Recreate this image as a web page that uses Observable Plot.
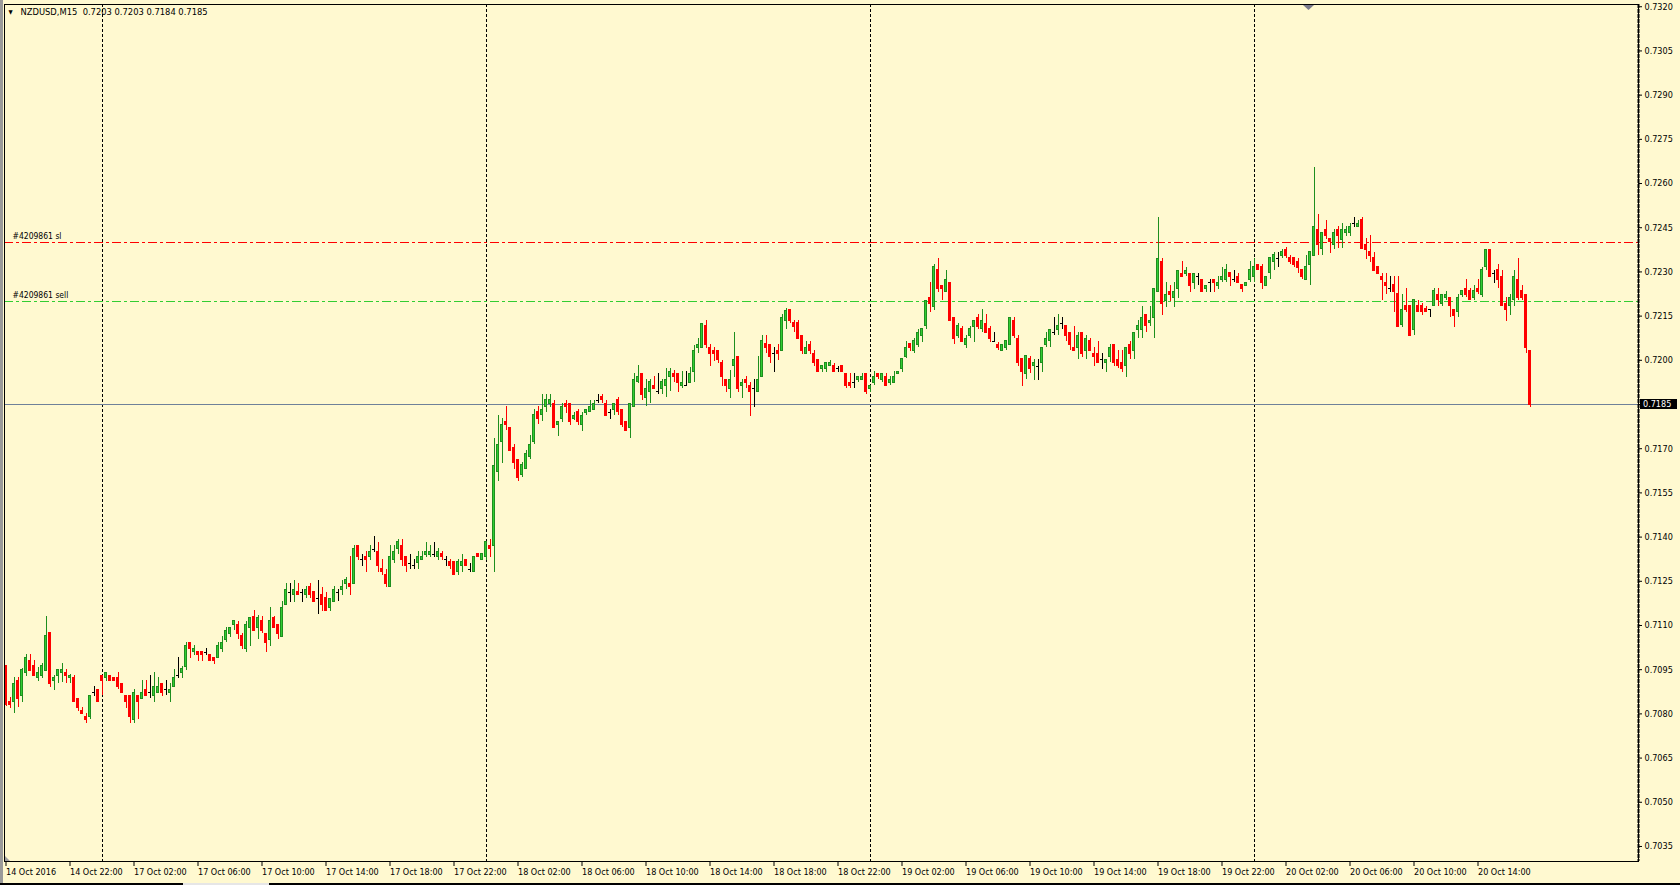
<!DOCTYPE html>
<html><head><meta charset="utf-8">
<script src="https://cdn.jsdelivr.net/npm/d3@7"></script>
<script src="https://cdn.jsdelivr.net/npm/@observablehq/plot@0.6"></script>
<style>
html,body{margin:0;padding:0;background:#FFF9D0;overflow:hidden;width:1680px;height:885px;}
#chart{position:absolute;left:0;top:0;}
#leftEdge{position:absolute;left:0;top:0;width:3px;height:885px;background:#9A9A9A;}
#bottomEdge{position:absolute;left:0;top:883px;width:1680px;height:2px;background:#000;}
#bottomGap{position:absolute;left:183px;top:883px;width:86px;height:2px;background:#E6E6E6;}
svg text{font-stretch:condensed;}
</style></head><body><div id="chart"></div><div id="leftEdge"></div><div id="bottomEdge"></div><div id="bottomGap"></div>
<script>
// NZDUSD M15, values in pips (price x 10000), one candle every 15 minutes from 14 Oct 2016 18:00
const symbolName = "NZDUSD,M15";
const openPips = [
7096.1,7084.2,7084.2,7091.3,7086.0,7093.8,7098.1,7096.1,7092.2,7092.7,
7094.7,7107.3,7091.1,7092.7,7093.8,7094.0,7092.1,7092.2,7085.2,7081.1,
7079.1,7078.9,7087.3,7088.2,7092.9,7092.1,7093.0,7092.2,7092.2,7090.2,
7086.1,7086.1,7078.0,7086.1,7085.0,7088.2,7087.1,7086.0,7087.1,7090.2,
7088.2,7087.1,7089.2,7092.9,7093.9,7095.8,7104.1,7100.9,7101.0,7101.0,
7101.0,7100.0,7099.0,7099.0,7102.1,7105.1,7107.2,7110.2,7110.3,7106.3,
7102.1,7109.2,7112.9,7109.2,7111.4,7107.2,7105.1,7112.4,7110.3,7106.1,
7117.0,7121.2,7120.2,7121.2,7121.2,7120.2,7123.2,7121.2,7119.2,7120.2,
7119.2,7115.9,7118.0,7121.1,7122.1,7124.1,7124.1,7124.1,7137.1,7132.3,
7133.4,7133.2,7135.9,7135.1,7129.2,7127.3,7123.0,7132.3,7136.1,7137.1,
7133.4,7131.1,7130.3,7131.1,7132.1,7133.9,7133.9,7134.1,7133.2,7134.1,
7132.3,7131.4,7131.4,7128.0,7130.1,7132.3,7129.0,7128.0,7134.1,7132.1,
7133.2,7137.1,7137.1,7162.0,7172.2,7179.2,7177.1,7170.4,7166.3,7161.1,
7163.2,7167.1,7172.2,7182.4,7181.3,7184.3,7185.3,7185.3,7178.2,7180.1,
7185.3,7185.3,7180.1,7182.3,7178.0,7182.1,7182.3,7183.3,7186.4,7187.4,
7185.3,7182.3,7183.3,7186.4,7183.3,7179.2,7177.1,7184.3,7192.5,7195.4,
7187.3,7189.3,7191.3,7189.3,7190.4,7191.3,7194.5,7195.4,7195.4,7191.2,
7191.5,7192.4,7196.0,7204.1,7204.1,7211.5,7204.3,7203.2,7203.2,7199.1,
7193.4,7190.3,7198.0,7201.2,7191.2,7193.4,7191.3,7190.3,7189.2,7194.3,
7205.4,7205.2,7202.2,7203.2,7203.2,7213.5,7217.2,7212.5,7212.5,7208.4,
7202.2,7205.2,7202.2,7200.0,7197.1,7197.1,7198.0,7198.0,7197.1,7198.0,
7195.4,7192.4,7192.4,7193.4,7193.4,7195.4,7190.3,7192.4,7195.4,7193.4,
7194.4,7192.4,7192.4,7195.4,7197.1,7201.1,7205.4,7203.3,7205.3,7208.4,
7211.5,7221.3,7218.0,7230.5,7225.3,7223.1,7226.4,7214.5,7208.2,7210.5,
7205.3,7208.4,7211.2,7214.5,7210.5,7212.4,7210.5,7206.3,7205.3,7203.2,
7204.2,7205.3,7213.4,7207.3,7200.3,7195.4,7200.3,7198.0,7198.0,7199.1,
7205.2,7206.4,7209.4,7210.4,7212.5,7211.5,7209.4,7204.2,7204.2,7209.4,
7203.2,7206.4,7202.2,7202.2,7200.2,7199.1,7201.1,7205.2,7200.2,7199.1,
7198.0,7205.2,7203.2,7210.4,7210.4,7215.5,7212.5,7214.5,7223.1,7233.5,
7220.1,7223.2,7221.1,7224.2,7229.4,7229.4,7229.4,7226.3,7228.3,7227.3,
7224.2,7226.3,7227.3,7225.2,7227.3,7227.3,7229.5,7227.3,7228.4,7225.4,
7225.2,7227.3,7228.4,7232.5,7231.6,7225.2,7229.5,7233.5,7234.7,7235.5,
7237.6,7234.7,7234.7,7233.5,7230.5,7227.3,7232.5,7235.5,7244.3,7237.9,
7244.3,7241.2,7239.0,7244.3,7241.0,7243.1,7243.1,7246.5,7245.2,7247.5,
7239.2,7236.7,7234.7,7231.6,7228.4,7226.3,7224.4,7225.4,7222.5,7212.1,
7218.3,7218.3,7210.3,7218.3,7218.3,7217.4,7217.1,7218.3,7222.3,7219.2,
7221.2,7221.2,7217.1,7216.3,7222.3,7224.3,7223.4,7221.2,7224.3,7222.3,
7231.6,7237.5,7229.6,7230.5,7228.4,7219.2,7218.3,7220.3,7227.3,7223.4,
7222.3,7203.0];
const highPips = [
7096.1,7085.7,7092.2,7092.2,7095.3,7100.2,7100.2,7098.1,7095.9,7097.0,
7113.0,7107.3,7093.0,7094.9,7097.0,7094.9,7093.3,7093.0,7085.2,7082.1,
7080.0,7086.3,7089.3,7088.2,7092.9,7094.2,7093.0,7092.2,7094.2,7090.4,
7086.1,7086.1,7088.2,7086.1,7091.3,7091.3,7093.0,7094.2,7092.5,7090.2,
7091.3,7090.2,7095.1,7099.1,7096.1,7104.1,7104.1,7103.2,7101.0,7101.0,
7102.1,7100.0,7099.0,7104.1,7106.3,7109.3,7109.3,7111.4,7111.4,7107.2,
7111.4,7112.4,7115.1,7113.4,7112.9,7107.2,7116.1,7112.9,7110.3,7118.1,
7124.2,7124.2,7125.3,7124.2,7122.2,7123.2,7124.2,7121.2,7125.3,7123.0,
7121.2,7119.0,7123.1,7122.1,7125.3,7126.3,7133.4,7137.1,7137.1,7134.1,
7135.1,7137.1,7140.2,7138.2,7132.3,7129.0,7137.1,7137.1,7139.1,7139.1,
7133.4,7134.1,7132.3,7135.1,7135.1,7138.2,7137.1,7138.2,7136.1,7135.1,
7133.4,7132.3,7131.4,7132.3,7134.1,7132.3,7131.1,7133.4,7134.1,7134.1,
7138.2,7139.1,7173.5,7181.3,7180.1,7184.3,7177.1,7171.3,7166.3,7165.2,
7169.4,7174.5,7183.3,7184.3,7188.4,7188.4,7188.4,7186.4,7179.2,7185.3,
7186.4,7185.3,7182.3,7183.3,7182.3,7183.3,7186.4,7186.4,7188.4,7188.4,
7186.4,7183.3,7185.3,7187.4,7183.3,7179.2,7185.3,7195.4,7198.2,7195.4,
7193.4,7193.4,7194.5,7195.4,7193.4,7197.2,7197.2,7196.5,7195.4,7196.2,
7196.2,7197.6,7205.0,7207.3,7212.4,7213.5,7205.2,7204.3,7203.2,7200.0,
7193.4,7196.5,7209.5,7201.2,7193.4,7194.5,7192.4,7193.4,7201.2,7208.4,
7208.4,7205.2,7204.3,7205.2,7215.5,7217.5,7217.2,7213.5,7213.5,7208.4,
7206.4,7206.4,7203.2,7200.0,7198.0,7199.0,7200.0,7199.0,7198.0,7198.0,
7195.4,7195.4,7195.4,7194.4,7195.4,7195.4,7191.3,7196.1,7195.4,7195.4,
7195.4,7194.4,7196.1,7196.1,7200.3,7206.4,7205.4,7207.3,7210.5,7210.5,
7220.2,7226.4,7232.5,7234.4,7225.3,7230.5,7226.4,7214.5,7212.4,7211.5,
7208.4,7211.5,7213.4,7215.5,7217.1,7215.5,7211.5,7209.3,7206.2,7205.3,
7206.4,7214.5,7214.5,7208.4,7200.3,7201.3,7201.3,7200.3,7200.3,7204.2,
7209.5,7210.4,7214.5,7215.5,7214.5,7211.5,7209.4,7211.5,7209.4,7209.4,
7208.4,7207.3,7204.2,7206.4,7202.2,7200.2,7205.2,7205.2,7203.2,7203.2,
7204.2,7206.4,7209.4,7213.5,7218.3,7215.5,7218.3,7224.2,7248.5,7234.5,
7226.3,7225.3,7226.3,7230.4,7233.5,7231.5,7229.4,7229.4,7229.4,7227.3,
7225.3,7227.3,7227.3,7228.4,7231.6,7232.5,7229.5,7230.5,7229.5,7225.4,
7226.3,7233.5,7234.7,7232.5,7232.5,7228.4,7234.7,7236.7,7236.7,7237.5,
7238.4,7235.7,7234.7,7234.7,7230.5,7235.7,7236.7,7265.6,7249.5,7243.1,
7247.5,7241.2,7244.3,7245.4,7246.3,7245.4,7246.3,7248.6,7247.5,7248.6,
7241.2,7242.4,7236.7,7231.6,7229.5,7229.5,7228.4,7228.4,7228.4,7222.3,
7224.3,7218.3,7220.3,7220.3,7219.2,7218.3,7217.1,7224.3,7224.3,7222.3,
7223.4,7221.2,7217.1,7222.3,7223.4,7227.3,7224.3,7225.4,7227.3,7231.6,
7237.5,7237.5,7230.5,7232.4,7230.5,7221.2,7222.3,7230.5,7234.4,7225.4,
7222.3,7203.0];
const lowPips = [
7082.5,7081.7,7080.0,7082.1,7084.0,7092.7,7094.5,7092.7,7091.0,7091.9,
7094.5,7089.1,7087.9,7090.2,7090.8,7090.2,7090.2,7084.0,7080.9,7079.8,
7076.9,7078.0,7085.9,7084.0,7086.2,7091.0,7091.1,7091.1,7088.2,7086.8,
7081.9,7076.9,7076.9,7078.0,7085.0,7086.0,7085.1,7084.0,7087.1,7086.0,
7086.1,7084.0,7089.2,7092.1,7092.1,7094.7,7098.9,7099.8,7097.9,7097.9,
7099.9,7097.9,7096.9,7099.0,7100.9,7104.1,7106.0,7108.2,7105.1,7101.8,
7100.9,7103.0,7108.2,7105.1,7107.2,7100.9,7103.0,7109.2,7105.1,7106.1,
7116.8,7117.9,7117.9,7120.2,7117.9,7119.0,7119.0,7117.9,7113.8,7114.9,
7114.9,7114.9,7118.0,7118.0,7120.1,7122.1,7120.1,7124.1,7132.1,7130.0,
7128.0,7132.1,7134.9,7128.0,7127.0,7123.0,7123.0,7130.9,7134.1,7130.1,
7128.0,7129.0,7129.0,7129.0,7132.1,7133.2,7133.2,7133.2,7132.1,7132.1,
7130.1,7129.0,7127.0,7127.0,7128.0,7130.1,7128.0,7128.0,7133.2,7132.1,
7132.1,7133.2,7128.0,7159.0,7165.1,7176.2,7169.2,7163.1,7159.0,7160.1,
7163.2,7166.2,7171.4,7178.2,7179.2,7182.3,7184.1,7177.1,7174.2,7179.0,
7182.1,7177.9,7179.6,7177.9,7176.0,7181.2,7182.3,7183.3,7185.2,7185.2,
7181.2,7180.0,7181.2,7181.2,7177.1,7176.0,7173.3,7184.3,7192.0,7186.4,
7184.3,7185.3,7190.3,7188.4,7188.4,7187.3,7189.3,7192.4,7189.2,7190.3,
7191.2,7192.4,7192.4,7202.2,7204.1,7204.1,7198.0,7199.6,7199.0,7191.2,
7189.2,7187.2,7194.3,7189.2,7187.2,7190.3,7181.0,7184.1,7189.2,7194.3,
7202.2,7199.0,7196.0,7200.0,7203.2,7210.3,7212.5,7209.3,7207.3,7202.1,
7202.2,7202.1,7198.0,7196.0,7196.0,7196.0,7198.0,7196.0,7196.0,7196.0,
7190.3,7190.3,7190.3,7192.4,7193.4,7188.3,7189.2,7191.3,7193.4,7192.4,
7191.3,7191.3,7192.4,7195.4,7196.0,7200.5,7203.1,7202.2,7204.2,7206.2,
7210.5,7216.3,7216.9,7223.1,7220.2,7223.1,7213.4,7205.2,7207.3,7206.2,
7204.1,7207.3,7206.2,7210.5,7209.3,7209.3,7206.2,7206.2,7203.2,7203.2,
7203.2,7205.3,7207.3,7198.0,7191.2,7193.4,7195.4,7193.1,7193.1,7196.0,
7204.2,7204.2,7208.4,7208.4,7210.4,7206.4,7203.2,7203.2,7200.2,7201.1,
7200.2,7203.2,7198.0,7199.1,7196.9,7196.0,7199.1,7198.0,7197.1,7196.0,
7194.3,7200.2,7200.2,7207.3,7207.3,7209.4,7211.5,7207.3,7223.1,7215.2,
7218.0,7220.1,7218.0,7221.1,7228.3,7228.3,7223.1,7224.2,7225.3,7223.1,
7223.1,7223.1,7223.1,7224.1,7226.3,7226.3,7225.2,7226.3,7226.3,7223.1,
7225.2,7226.3,7226.3,7230.5,7224.1,7225.2,7227.3,7230.5,7231.4,7234.7,
7234.7,7232.5,7231.6,7229.4,7227.3,7227.3,7225.4,7235.5,7235.5,7235.5,
7241.0,7236.4,7237.5,7237.9,7237.9,7242.1,7242.1,7245.2,7245.2,7237.9,
7234.3,7233.3,7230.2,7229.3,7220.3,7222.2,7223.1,7216.3,7211.2,7211.2,
7216.3,7208.1,7208.4,7216.3,7215.2,7216.3,7214.4,7218.3,7218.3,7218.3,
7220.3,7214.4,7211.2,7214.4,7221.4,7221.4,7220.3,7220.3,7222.3,7221.2,
7230.5,7228.4,7226.2,7224.3,7218.3,7213.3,7215.2,7218.3,7220.3,7220.3,
7202.2,7184.0];
const closePips = [
7083.1,7083.1,7090.2,7085.0,7094.9,7099.0,7094.7,7092.7,7094.0,7096.1,
7106.3,7090.2,7092.2,7094.9,7094.9,7092.7,7093.0,7084.0,7081.9,7079.8,
7077.8,7086.1,7087.3,7084.0,7091.1,7093.9,7091.1,7091.1,7089.1,7087.0,
7084.0,7078.9,7087.1,7084.0,7087.1,7086.0,7087.1,7089.2,7089.2,7087.1,
7088.2,7088.1,7092.3,7092.9,7095.1,7103.2,7102.1,7102.1,7099.9,7099.9,
7101.0,7097.9,7097.9,7103.2,7104.1,7108.2,7109.3,7111.4,7107.2,7103.0,
7110.3,7112.4,7108.2,7112.4,7108.2,7104.0,7111.4,7109.2,7107.2,7116.1,
7122.2,7121.2,7122.2,7120.2,7121.2,7122.2,7120.2,7117.9,7119.2,7117.0,
7114.9,7119.0,7122.1,7121.1,7123.1,7125.3,7123.1,7136.1,7133.2,7132.3,
7132.3,7135.1,7135.9,7130.1,7128.0,7124.1,7133.4,7135.1,7138.2,7132.3,
7130.1,7131.1,7130.3,7133.4,7133.4,7135.1,7135.1,7134.1,7135.1,7133.2,
7132.3,7130.1,7127.0,7131.4,7131.4,7130.1,7129.0,7133.4,7133.2,7134.1,
7138.2,7136.1,7164.2,7171.4,7178.2,7178.1,7169.2,7165.1,7160.1,7164.3,
7168.3,7171.4,7181.3,7180.1,7183.3,7186.4,7186.4,7177.1,7179.2,7184.3,
7184.1,7179.0,7181.2,7179.0,7181.2,7183.3,7184.3,7185.3,7186.4,7186.4,
7181.2,7182.3,7185.3,7182.3,7178.0,7176.0,7185.3,7193.4,7194.5,7188.2,
7190.4,7192.5,7190.3,7189.3,7192.5,7193.4,7196.2,7194.3,7192.4,7192.4,
7191.5,7195.4,7203.3,7205.2,7212.4,7205.2,7202.2,7202.1,7200.0,7194.3,
7191.2,7193.4,7200.2,7190.3,7192.4,7192.4,7189.2,7190.3,7193.4,7206.4,
7204.1,7201.1,7202.2,7202.1,7214.5,7216.6,7213.5,7211.4,7207.3,7203.2,
7204.3,7203.2,7199.0,7196.0,7198.0,7199.0,7199.0,7196.0,7197.1,7196.0,
7191.2,7191.2,7192.4,7194.4,7194.4,7189.2,7191.3,7194.4,7194.4,7195.4,
7191.3,7193.4,7194.4,7196.1,7200.3,7204.3,7204.2,7206.4,7209.3,7210.5,
7220.2,7219.2,7231.5,7224.3,7224.3,7227.4,7213.4,7207.3,7211.5,7206.2,
7207.3,7210.5,7213.4,7211.2,7213.4,7209.3,7207.3,7206.3,7204.2,7205.3,
7206.4,7214.5,7208.2,7199.1,7196.0,7201.3,7197.1,7199.1,7198.0,7204.2,
7207.3,7210.4,7209.4,7211.5,7212.5,7208.4,7205.2,7203.2,7208.4,7202.2,
7207.3,7203.2,7201.1,7199.1,7200.2,7200.2,7204.2,7199.1,7198.0,7197.1,
7204.2,7202.2,7209.4,7211.5,7214.5,7211.5,7213.5,7224.2,7234.5,7219.0,
7222.2,7222.2,7223.2,7230.4,7228.3,7230.4,7225.3,7229.4,7228.3,7223.1,
7225.3,7226.3,7226.3,7226.3,7228.4,7230.5,7228.4,7227.3,7226.3,7224.1,
7226.3,7230.5,7231.6,7230.5,7226.3,7228.4,7234.7,7235.7,7234.7,7236.7,
7235.5,7233.5,7232.5,7231.4,7228.2,7231.6,7236.7,7245.4,7239.0,7243.1,
7242.1,7240.1,7243.1,7242.1,7244.3,7244.3,7245.4,7246.5,7246.3,7237.9,
7237.5,7235.5,7230.2,7229.3,7227.3,7225.2,7224.4,7223.1,7211.2,7217.1,
7217.1,7208.4,7220.3,7216.3,7216.3,7216.3,7217.1,7223.4,7220.3,7222.3,
7222.3,7218.3,7215.2,7221.2,7223.4,7222.3,7220.3,7223.4,7223.1,7230.5,
7237.5,7228.4,7229.6,7227.3,7218.3,7217.1,7221.2,7228.4,7221.2,7221.2,
7204.2,7185.0];

// time axis: bar index of each label, and its text
const timeTickBars = [0,16,32,48,64,80,96,112,128,144,160,176,192,208,224,240,256,272,288,304,320,336,352,368];
const timeLabels = ["14 Oct 2016","14 Oct 22:00","17 Oct 02:00","17 Oct 06:00","17 Oct 10:00","17 Oct 14:00",
  "17 Oct 18:00","17 Oct 22:00","18 Oct 02:00","18 Oct 06:00","18 Oct 10:00","18 Oct 14:00","18 Oct 18:00",
  "18 Oct 22:00","19 Oct 02:00","19 Oct 06:00","19 Oct 10:00","19 Oct 14:00","19 Oct 18:00","19 Oct 22:00",
  "20 Oct 02:00","20 Oct 06:00","20 Oct 10:00","20 Oct 14:00"];
// bars that open a new day (00:00)
const daySeparatorBars = [24,120,216,312];
const priceTicks = [0.7035,0.7050,0.7065,0.7080,0.7095,0.7110,0.7125,0.7140,0.7155,0.7170,0.7185,0.7200,
  0.7215,0.7230,0.7245,0.7260,0.7275,0.7290,0.7305,0.7320];
const orderLevels = [0.7240, 0.7220];
const orderLabels = ["#4209861 sl", "#4209861 sell"];
const orderColors = ["#FF0000", "#32CD32"];
const bidPrice = 0.7185;

const rows = openPips.map((o, i) => {
  const d = {i, o: o / 1e4, h: highPips[i] / 1e4, l: lowPips[i] / 1e4, c: closePips[i] / 1e4};
  d.kind = d.c > d.o ? "bull" : d.c < d.o ? "bear" : "doji";
  return d;
});
const levels = orderLevels.map((p, k) => ({price: p, label: orderLabels[k], color: orderColors[k]}));
const wickColor = {bull: "#1E8E1E", bear: "#FF0000", doji: "#000000"};
const bodies = rows.filter(d => d.kind !== "doji");
const dojis = rows.filter(d => d.kind === "doji");
const last = rows[rows.length - 1];
const header = `${symbolName}\u00a0\u00a0${[last.o, last.h, last.l, last.c].map(v => v.toFixed(4)).join(" ")}`;

const FONT = "'DejaVu Sans Condensed','DejaVu Sans',sans-serif";
const W = 1680, H = 885;
const xDomain = [-0.375, 408.125];
const crisp = {shapeRendering: "crispEdges"};
const chart = Plot.plot({
  width: W, height: H,
  marginLeft: 4, marginRight: 42, marginTop: 4, marginBottom: 24,
  style: {background: "#FFF9D0", fontFamily: FONT, fontSize: "9px", color: "#000", overflow: "visible"},
  x: {domain: xDomain, axis: null},
  y: {domain: [0.702990, 0.732076], axis: null},
  marks: [
    Plot.ruleX(daySeparatorBars, {x: d => d, stroke: "#000", strokeDasharray: "3,2", strokeWidth: 1, ...crisp}),
    Plot.ruleY(levels, {y: "price", stroke: "color", strokeDasharray: "9,3,3,3", strokeWidth: 1, ...crisp}),
    Plot.ruleY([bidPrice], {stroke: "#6F8199", strokeWidth: 1, ...crisp}),
    Plot.text(levels, {y: "price", text: "label", frameAnchor: "left", textAnchor: "start", dx: 8, dy: -6, fill: "#000", fontSize: 8.5}),
    Plot.ruleX(rows, {x: "i", y1: "l", y2: "h", stroke: d => wickColor[d.kind], strokeWidth: 1, ...crisp}),
    Plot.rect(bodies, {x1: d => d.i - 0.25, x2: d => d.i + 0.25, y1: "o", y2: "c",
      fill: d => d.kind === "bull" ? "#32CD32" : "#FF0000",
      stroke: d => d.kind === "bull" ? "#1E8E1E" : "#FF0000", strokeWidth: 1, ...crisp}),
    Plot.ruleY(dojis, {y: "o", x1: d => d.i - 0.375, x2: d => d.i + 0.375, stroke: "#000", strokeWidth: 1, ...crisp}),
    Plot.frame({stroke: "#000", strokeWidth: 1, ...crisp}),
    Plot.ruleX([xDomain[1]], {stroke: "#000", strokeWidth: 2, strokeDasharray: "4,1"}),
    Plot.axisY(priceTicks, {anchor: "right", label: null, tickSize: 3, tickPadding: 3, tickFormat: d => d.toFixed(4), fill: "#000", fontSize: 9}),
    Plot.axisX(timeTickBars, {anchor: "bottom", label: null, tickSize: 5, tickPadding: 2, textAnchor: "start", dx: 0,
      tickFormat: d => timeLabels[timeTickBars.indexOf(d)], fill: "#000", fontSize: 9}),
    Plot.text([header], {frameAnchor: "top-left", textAnchor: "start", lineAnchor: "top", dx: 16, dy: 4, fill: "#000", fontSize: 9.3}),
    Plot.text(["\u25BC"], {frameAnchor: "top-left", textAnchor: "start", lineAnchor: "top", dx: 4, dy: 5, fill: "#000", fontSize: 6})
  ]
});
document.getElementById("chart").appendChild(chart);

// current bid price tag on the right scale, and small chart-shift / corner markers
const svg = d3.select(chart);
const yBid = chart.scale("y").apply(bidPrice);
const xRight = W - 42;
const g = svg.append("g").attr("text-anchor", "start");
g.append("rect").attr("x", xRight + 2).attr("y", yBid - 5).attr("width", 37).attr("height", 10).attr("fill", "#000");
g.append("text").attr("x", xRight + 5).attr("y", yBid).attr("dy", "0.32em").attr("text-anchor", "start")
  .attr("fill", "#fff").attr("font-size", 9).attr("font-family", FONT).text(bidPrice.toFixed(4));
g.append("path").attr("d", "M1303,5L1314,5L1308.5,10Z").attr("fill", "#7A7A8C");
g.append("path").attr("d", "M5,856L5,861L10,861Z").attr("fill", "#A0A0A0");
</script>
</body></html>
